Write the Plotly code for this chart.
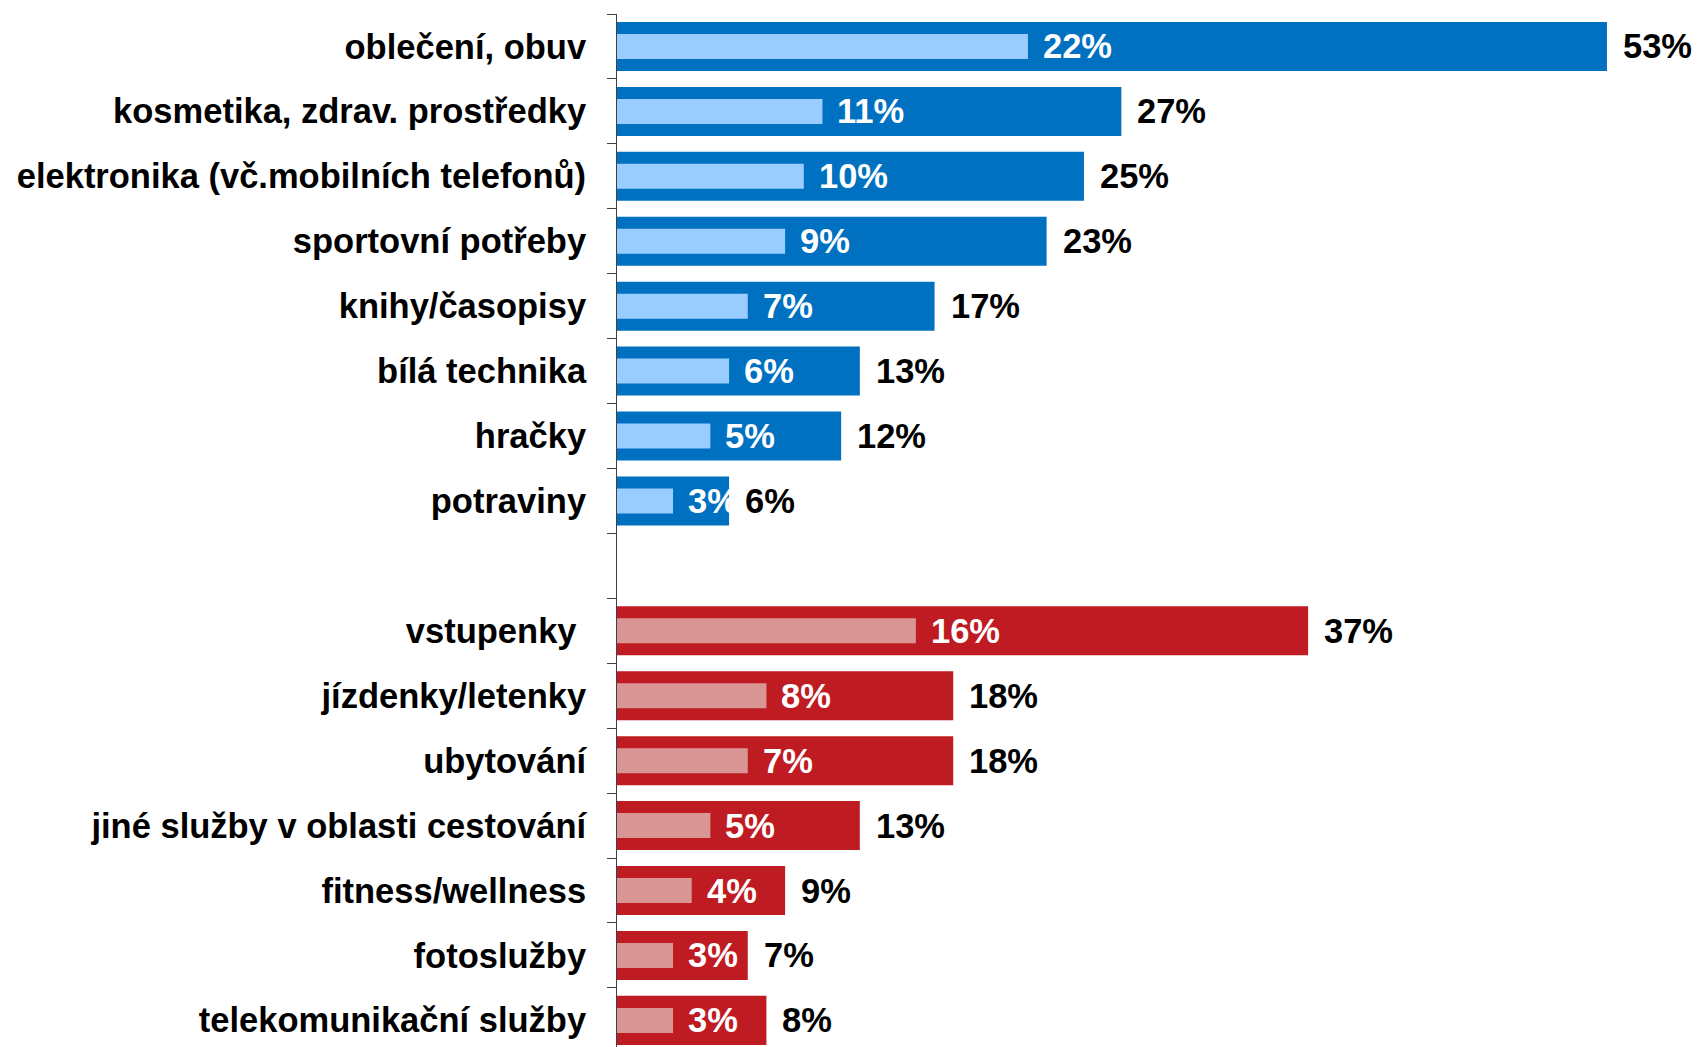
import plotly.graph_objects as go

# Product and service categories (blank row separates the two groups)
categories = [
    "oblečení, obuv",
    "kosmetika, zdrav. prostředky",
    "elektronika (vč.mobilních telefonů)",
    "sportovní potřeby",
    "knihy/časopisy",
    "bílá technika",
    "hračky",
    "potraviny",
    " ",
    "vstupenky\u00a0",
    "jízdenky/letenky",
    "ubytování",
    "jiné služby v oblasti cestování",
    "fitness/wellness",
    "fotoslužby",
    "telekomunikační služby",
]

# Outer (wide) bars and inner (narrow) bars, in percent
outer_values = [53, 27, 25, 23, 17, 13, 12, 6, None, 37, 18, 18, 13, 9, 7, 8]
inner_values = [22, 11, 10, 9, 7, 6, 5, 3, None, 16, 8, 7, 5, 4, 3, 3]

# Group colours: goods (blue) and services (red)
group = ["goods"] * 8 + [None] + ["services"] * 7
outer_color = {"goods": "#0070C0", "services": "#BE1B23", None: "rgba(0,0,0,0)"}
inner_color = {"goods": "#99CCFF", "services": "#D99694", None: "rgba(0,0,0,0)"}

FONT = "Liberation Sans, Arial, sans-serif"
FONT_SIZE = 34.5

fig = go.Figure()
fig.add_trace(go.Bar(
    y=categories, x=outer_values, orientation="h", width=0.755,
    marker=dict(color=[outer_color[g] for g in group], line=dict(width=0)),
    hoverinfo="skip",
))
fig.add_trace(go.Bar(
    y=categories, x=inner_values, orientation="h", width=0.385,
    marker=dict(color=[inner_color[g] for g in group], line=dict(width=0)),
    hoverinfo="skip",
))

annotations = []
for cat, ov, iv in zip(categories, outer_values, inner_values):
    if ov is None:
        continue
    annotations.append(dict(
        x=ov, y=cat, xref="x", yref="y", text=f"<b>{ov}%</b>",
        showarrow=False, xanchor="left", yanchor="middle", xshift=14,
        font=dict(family=FONT, size=FONT_SIZE, color="#000000"),
    ))
    annotations.append(dict(
        x=iv, y=cat, xref="x", yref="y", text=f"<b>{iv}%</b>",
        showarrow=False, xanchor="left", yanchor="middle", xshift=13,
        font=dict(family=FONT, size=FONT_SIZE, color="#FFFFFF"),
    ))

fig.update_layout(
    width=1697, height=1047,
    margin=dict(l=617, r=0, t=14, b=0, pad=0),
    paper_bgcolor="white", plot_bgcolor="white",
    barmode="overlay", showlegend=False,
    annotations=annotations,
    xaxis=dict(range=[0, 57.82], visible=False, fixedrange=True),
    yaxis=dict(
        type="category", categoryorder="array", categoryarray=categories,
        range=[15.41, -0.5],
        showline=True, linecolor="#404040", linewidth=1,
        ticks="outside", tickson="boundaries", ticklen=9,
        tickcolor="#404040", tickwidth=1,
        showgrid=False, zeroline=False,
        tickfont=dict(family=FONT, size=FONT_SIZE, color="#000000"),
        ticklabelstandoff=23,
        tickprefix="<b>", ticksuffix="</b>",
        fixedrange=True,
    ),
)

fig.write_html("out.html")
